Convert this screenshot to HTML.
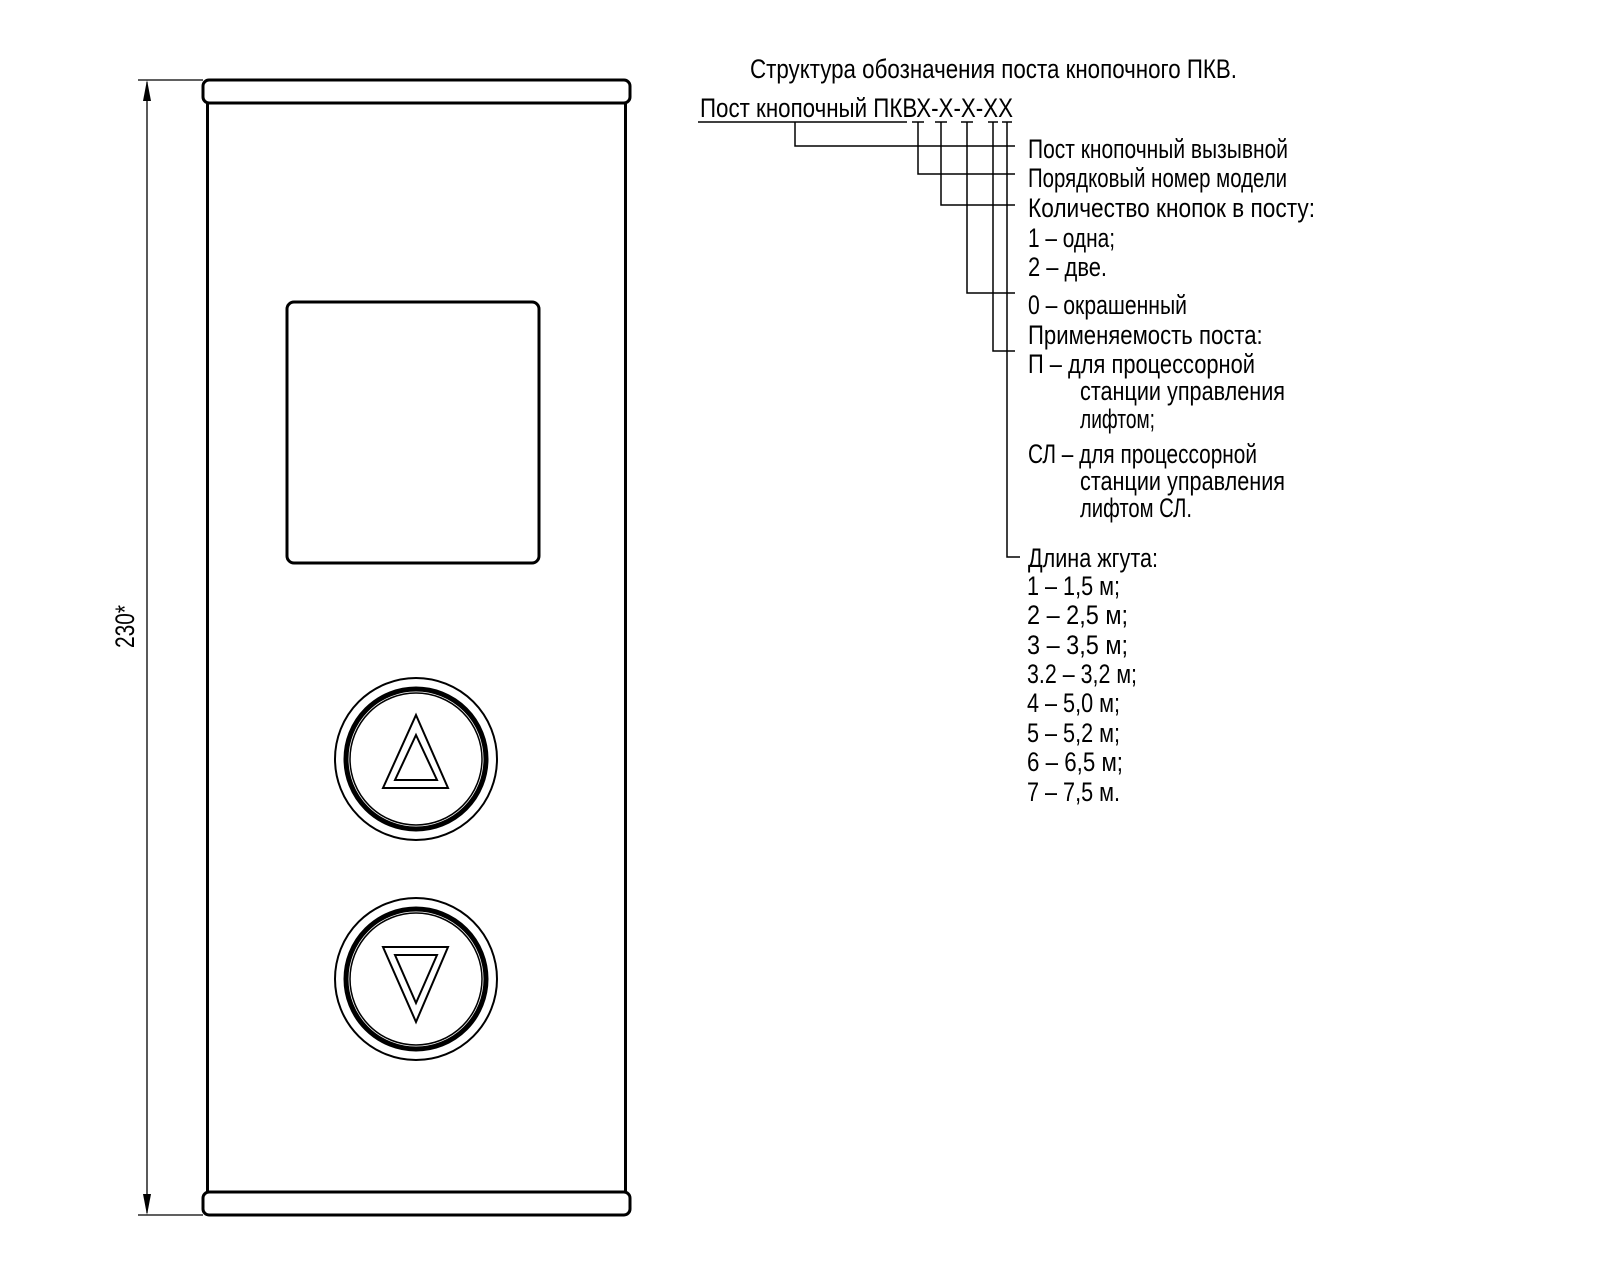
<!DOCTYPE html>
<html><head><meta charset="utf-8"><style>
html,body{margin:0;padding:0;background:#fff;}
svg{display:block;}
text{font-family:"Liberation Sans","DejaVu Sans",sans-serif;font-size:27px;fill:#000;}
</style></head><body>
<svg width="1600" height="1280" viewBox="0 0 1600 1280" xmlns="http://www.w3.org/2000/svg">
<g fill="none" stroke="#000">
  <rect x="203" y="80" width="427" height="23" rx="6" stroke-width="3"/>
  <rect x="203" y="1192" width="427" height="23" rx="6" stroke-width="3"/>
  <line x1="207.5" y1="103" x2="207.5" y2="1192" stroke-width="3"/>
  <line x1="625.5" y1="103" x2="625.5" y2="1192" stroke-width="3"/>
  <rect x="287" y="302" width="252" height="261" rx="7" stroke-width="3"/>
  <line x1="138" y1="80" x2="203" y2="80" stroke-width="1.3"/>
  <line x1="138" y1="1215" x2="203" y2="1215" stroke-width="1.3"/>
  <line x1="147" y1="82" x2="147" y2="1213" stroke-width="1.3"/>
  <circle cx="416" cy="759" r="81" stroke-width="2"/>
  <circle cx="416" cy="759" r="70" stroke-width="5"/>
  <circle cx="416" cy="759" r="66" stroke-width="1.5"/>
  <polygon points="416,715 448,788 383,788" stroke-width="2"/>
  <polygon points="416,735 437,780 395,780" stroke-width="2"/>
  <circle cx="416" cy="979" r="81" stroke-width="2"/>
  <circle cx="416" cy="979" r="70" stroke-width="5"/>
  <circle cx="416" cy="979" r="66" stroke-width="1.5"/>
  <polygon points="383,947 448,947 416,1022" stroke-width="2"/>
  <polygon points="395,955 437,955 416,1003" stroke-width="2"/>
  <g stroke-width="1.5">
    <line x1="698" y1="122" x2="907" y2="122"/>
    <line x1="912" y1="122" x2="924" y2="122"/>
    <line x1="935" y1="122" x2="947" y2="122"/>
    <line x1="961" y1="122" x2="973" y2="122"/>
    <line x1="988" y1="122" x2="998" y2="122"/>
    <line x1="1002" y1="122" x2="1012" y2="122"/>
    <polyline points="795,122 795,146 1015,146"/>
    <polyline points="918,122 918,174 1015,174"/>
    <polyline points="941,122 941,205 1015,205"/>
    <polyline points="967,122 967,293 1015,293"/>
    <polyline points="993,122 993,351 1015,351"/>
    <polyline points="1007,122 1007,557 1020,557"/>
  </g>
</g>
<g>
  <polygon points="147,80 143,101 151,101" fill="#000"/>
  <polygon points="147,1215 143,1194 151,1194" fill="#000"/>
</g>
<text transform="translate(134,648) rotate(-90)" font-size="21" textLength="43" lengthAdjust="spacingAndGlyphs">230*</text>

<text x="750" y="78" textLength="487" lengthAdjust="spacingAndGlyphs">Структура обозначения поста кнопочного ПКВ.</text>
<text x="700" y="117" textLength="313" lengthAdjust="spacingAndGlyphs">Пост кнопочный ПКВХ-Х-Х-ХХ</text>

<text x="1028" y="158" textLength="260" lengthAdjust="spacingAndGlyphs">Пост кнопочный вызывной</text>
<text x="1028" y="187" textLength="259" lengthAdjust="spacingAndGlyphs">Порядковый номер модели</text>
<text x="1028" y="217" textLength="287" lengthAdjust="spacingAndGlyphs">Количество кнопок в посту:</text>
<text x="1028" y="247" textLength="87" lengthAdjust="spacingAndGlyphs">1 – одна;</text>
<text x="1028" y="276" textLength="79" lengthAdjust="spacingAndGlyphs">2 – две.</text>
<text x="1028" y="314" textLength="159" lengthAdjust="spacingAndGlyphs">0 – окрашенный</text>
<text transform="translate(1028,344) scale(0.82,1)" font-size="27">Применяемость поста:</text>
<text x="1028" y="373" textLength="227" lengthAdjust="spacingAndGlyphs">П  – для процессорной</text>
<text x="1080" y="400" textLength="205" lengthAdjust="spacingAndGlyphs">станции управления</text>
<text x="1080" y="428" textLength="75" lengthAdjust="spacingAndGlyphs">лифтом;</text>
<text x="1028" y="463" textLength="229" lengthAdjust="spacingAndGlyphs">СЛ – для процессорной</text>
<text x="1080" y="490" textLength="205" lengthAdjust="spacingAndGlyphs">станции управления</text>
<text x="1080" y="517" textLength="112" lengthAdjust="spacingAndGlyphs">лифтом СЛ.</text>

<text x="1028" y="567" textLength="130" lengthAdjust="spacingAndGlyphs">Длина жгута:</text>
<text x="1027" y="595" textLength="93" lengthAdjust="spacingAndGlyphs">1  – 1,5 м;</text>
<text x="1027" y="624" textLength="101" lengthAdjust="spacingAndGlyphs">2  – 2,5 м;</text>
<text x="1027" y="654" textLength="101" lengthAdjust="spacingAndGlyphs">3  – 3,5 м;</text>
<text x="1027" y="683" textLength="110" lengthAdjust="spacingAndGlyphs">3.2 – 3,2 м;</text>
<text x="1027" y="712" textLength="93" lengthAdjust="spacingAndGlyphs">4 – 5,0 м;</text>
<text x="1027" y="742" textLength="93" lengthAdjust="spacingAndGlyphs">5 – 5,2 м;</text>
<text x="1027" y="771" textLength="96" lengthAdjust="spacingAndGlyphs">6 – 6,5 м;</text>
<text x="1027" y="801" textLength="93" lengthAdjust="spacingAndGlyphs">7 – 7,5 м.</text>
</svg>
</body></html>
